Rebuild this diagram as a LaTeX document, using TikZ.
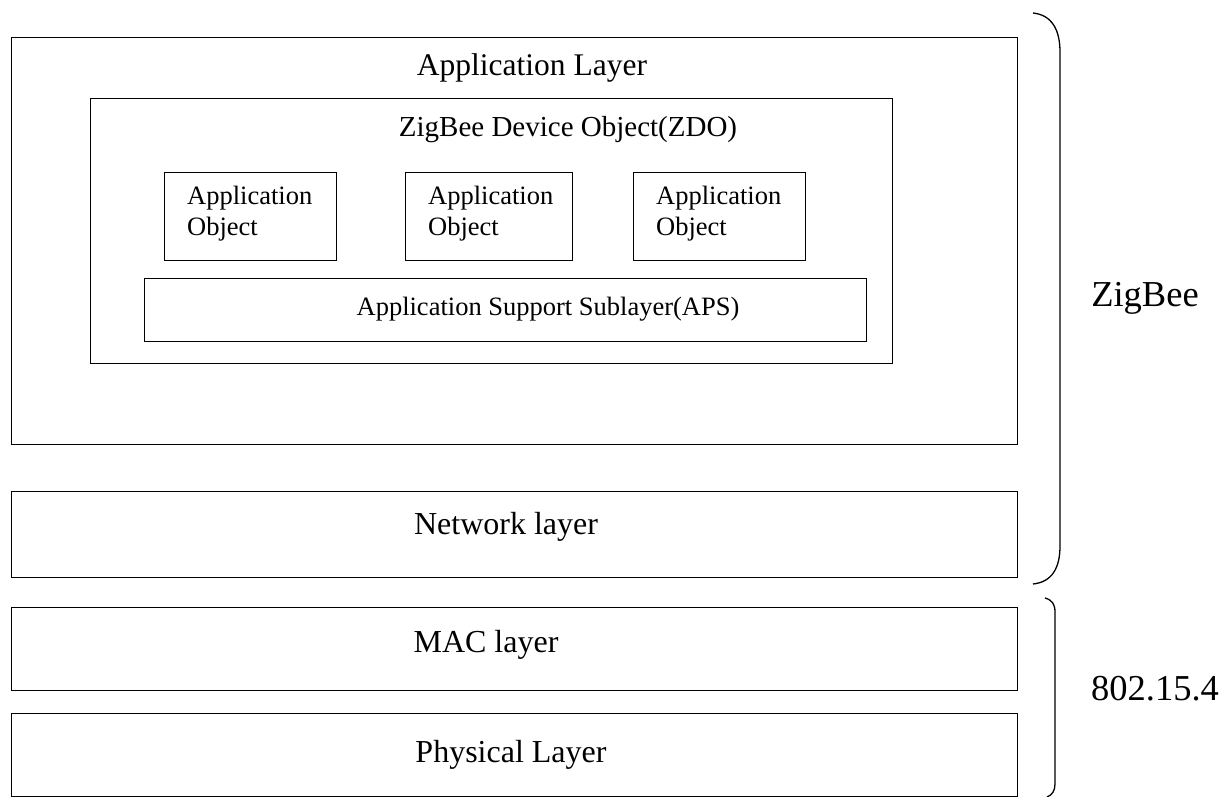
\documentclass[tikz,border=0pt]{standalone}
\usepackage{fontspec}
\setmainfont{Liberation Serif}
\begin{document}
\begin{tikzpicture}[x=1pt,y=-1pt,
  boxx/.style={draw,line width=1.2pt,inner sep=0pt,anchor=north west},
  bigtxt/.style={font=\fontsize{32}{36}\selectfont,inner sep=0pt},
  midtxt/.style={font=\fontsize{29}{33}\selectfont,inner sep=0pt},
  smalltxt/.style={font=\fontsize{26.5}{31}\selectfont,inner sep=0pt,align=left,anchor=west},
  sidetxt/.style={font=\fontsize{36.5}{40}\selectfont,inner sep=0pt},
  brace/.style={line width=1.3pt}]
\useasboundingbox (0,0) rectangle (1224,797);
% boxes
\node[boxx,minimum width=1006pt,minimum height=407pt] (app) at (11,37) {};
\node[boxx,minimum width=802pt,minimum height=265pt] (zdo) at (90,98) {};
\node[boxx,minimum width=172pt,minimum height=88pt] (ao1) at (164,172) {};
\node[boxx,minimum width=167pt,minimum height=88pt] (ao2) at (405,172) {};
\node[boxx,minimum width=172pt,minimum height=88pt] (ao3) at (633,172) {};
\node[boxx,minimum width=722pt,minimum height=63pt] (aps) at (144,278) {};
\node[boxx,minimum width=1006pt,minimum height=86pt] (nwk) at (11,491) {};
\node[boxx,minimum width=1006pt,minimum height=83pt] (mac) at (11,607) {};
\node[boxx,minimum width=1006pt,minimum height=83pt] (phy) at (11,713) {};
% texts
\node[font=\fontsize{31.5}{36}\selectfont,inner sep=0pt] (tapp) at (532,68) {Application Layer};
\node[midtxt] (tzdo) at (568,130) {ZigBee Device Object(ZDO)};
\node[smalltxt] (tao1) at (187,214) {Application\\Object};
\node[smalltxt] (tao2) at (428,214) {Application\\Object};
\node[smalltxt] (tao3) at (656,214) {Application\\Object};
\node[font=\fontsize{26.5}{31}\selectfont,inner sep=0pt] (taps) at (548,309) {Application Support Sublayer(APS)};
\node[bigtxt] (tnwk) at (506,527) {Network layer};
\node[bigtxt] (tmac) at (486,645) {MAC layer};
\node[bigtxt] (tphy) at (511,755) {Physical Layer};
% braces
\coordinate (b1t) at (1033,13);
\coordinate (b1b) at (1033,584);
\draw[brace] (b1t) .. controls (1052,15) and (1060,30) .. (1060,52) -- (1060,546) .. controls (1060,568) and (1052,582) .. (b1b);
\coordinate (b2t) at (1045,598);
\coordinate (b2b) at (1047,797);
\draw[brace] (b2t) .. controls (1052,600) and (1055,604) .. (1055,612) -- (1055,784) .. controls (1055,791) and (1052,795) .. (b2b);
\node[sidetxt] (tzb) at (1145,298) {ZigBee};
\node[sidetxt] (t802) at (1155,689) {802.15.4};
\end{tikzpicture}
\end{document}
